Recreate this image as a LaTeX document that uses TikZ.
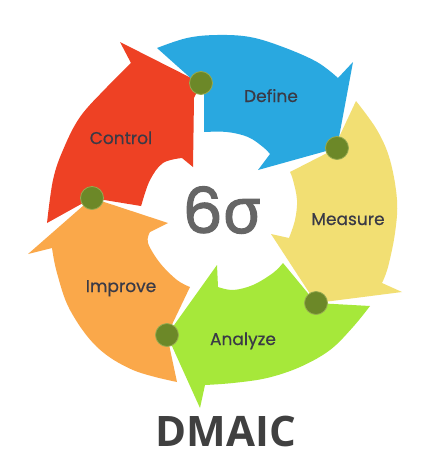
\documentclass[tikz,border=0pt]{standalone}
\usepackage{fontspec}
\setmainfont{Poppins}[FakeBold=0.6]
\newfontfamily\sixfont{Poppins}[FakeBold=2]
\newfontfamily\boldsans{Open Sans}
\newfontfamily\sigfont{Noto Sans}[FakeBold=2]
\definecolor{cred}{RGB}{238,65,36}
\definecolor{cblue}{RGB}{41,168,224}
\definecolor{cyellow}{RGB}{242,223,115}
\definecolor{cgreen}{RGB}{166,232,58}
\definecolor{corange}{RGB}{250,168,74}
\definecolor{cdot}{RGB}{108,136,40}
\definecolor{cdotrim}{RGB}{150,170,80}
\definecolor{clabel}{RGB}{58,58,70}
\definecolor{csix}{RGB}{102,102,102}
\definecolor{ctitle}{RGB}{64,64,64}
\tikzset{
  joint/.style={circle, fill=cdot, draw=cdotrim, line width=0.8pt, minimum size=23pt, inner sep=0pt},
  lbl/.style={anchor=base, text=clabel, font=\fontsize{17}{17}\selectfont, inner sep=0pt},
  smoothp/.style={smooth, tension=0.6}
}
\begin{document}
\begin{tikzpicture}[x=1pt,y=-1pt]
\useasboundingbox (0,0) rectangle (426,472);
\fill[white] (0,0) rectangle (426,472);

% Control (red)
\fill[cred] (47,223) -- plot[smoothp] coordinates {(47,223) (53,180) (63,150) (80,117) (107,87) (131,63)}
  -- (120,42) -- (201,83) -- (194,98) -- (193,167) -- (182,158)
  -- plot[smoothp] coordinates {(182,158) (163,163) (150,180) (142,203)}
  -- (141,206) -- (92,198) -- cycle;
% Define (blue)
\fill[cblue] (157,48) -- plot[smoothp] coordinates {(157,48) (187,38) (217,35) (250,37) (283,47) (317,62) (338,78)}
  -- (353,62) -- (337,148) -- (258,170) -- (270,154)
  -- plot[smoothp] coordinates {(270,154) (263,147) (248,137) (227,132) (204,132)}
  -- (204,90) -- cycle;
% Measure (yellow)
\fill[cyellow] (356,101) -- plot[smoothp] coordinates {(356,101) (377,130) (390,160) (397,200) (395,233) (388,267) (382,283)}
  -- (402,292) -- (316,303) -- (271,234) -- (289,238)
  -- plot[smoothp] coordinates {(289,238) (295,220) (297,200) (293,180) (290,172)}
  -- (333,150) -- cycle;
% Analyze (green)
\fill[cgreen] (370,306) -- plot[smoothp] coordinates {(370,306) (353,327) (330,350) (300,367) (267,378) (233,383) (205,385)}
  -- (200,408) -- (167,335) -- (217,265) -- (218,287)
  -- plot[smoothp] coordinates {(218,287) (233,290) (253,285) (273,273) (283,263)}
  -- (316,303) -- cycle;
% Improve (orange)
\fill[corange] (177,382) -- plot[smoothp] coordinates {(177,382) (133,370) (97,347) (70,310) (57,273) (52,248)}
  -- (28,254) -- (92,198) -- (168,223) -- (150,232)
  -- plot[smoothp] coordinates {(150,232) (148,243) (160,263) (177,280) (190,287)}
  -- (167,335) -- cycle;

% joints
\node[joint] (j1) at (201,83) {};
\node[joint] (j2) at (337,148) {};
\node[joint] (j3) at (316,303) {};
\node[joint] (j4) at (167,335) {};
\node[joint] (j5) at (92,198) {};

% labels
\node[lbl] (define) at (271,102) {Define};
\node[lbl] (control) at (121,144) {Control};
\node[lbl] (measure) at (348,225) {Measure};
\node[lbl] (improve) at (121,292) {Improve};
\node[lbl] (analyze) at (243,345) {Analyze};
\node[anchor=base, inner sep=0pt, text=csix, font=\fontsize{63}{63}\selectfont] (six) at (222,233) {{\sixfont 6}{\sigfont σ}};
\node[anchor=base, inner sep=0pt, text=ctitle, font=\boldsans\bfseries\fontsize{42}{42}\selectfont] (title) at (226,446) {DMAIC};
\end{tikzpicture}
\end{document}
